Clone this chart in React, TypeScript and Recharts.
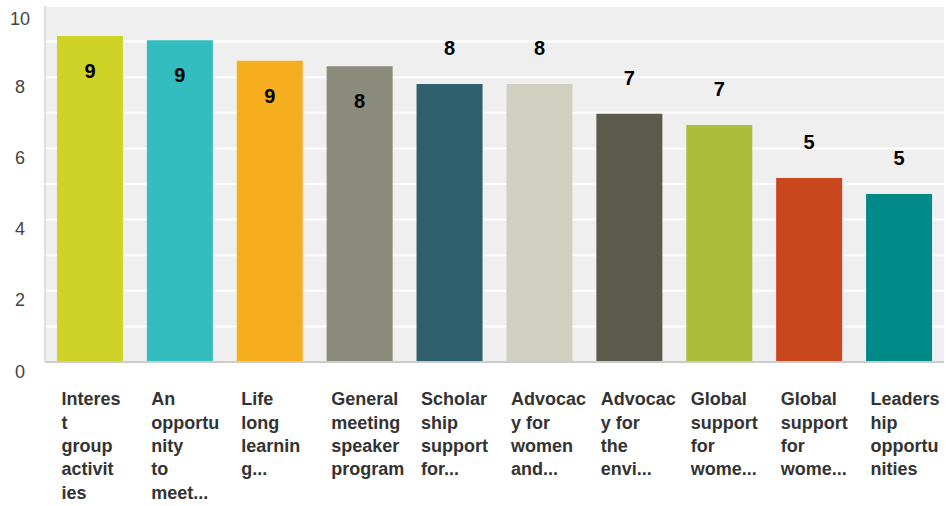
import { BarChart, Bar, XAxis, YAxis, CartesianGrid, Cell, LabelList } from 'recharts';

const categories = [
  'Interest group activities',
  'An opportunity to meet...',
  'Life long learning...',
  'General meeting speaker program',
  'Scholarship support for...',
  'Advocacy for women and...',
  'Advocacy for the envi...',
  'Global support for wome... (1)',
  'Global support for wome... (2)',
  'Leadership opportunities',
];

// wrapped tick text as shown under each bar
const tickLines = [
  ['Interes', 't', 'group', 'activit', 'ies'],
  ['An', 'opportu', 'nity', 'to', 'meet...'],
  ['Life', 'long', 'learnin', 'g...'],
  ['General', 'meeting', 'speaker', 'program'],
  ['Scholar', 'ship', 'support', 'for...'],
  ['Advocac', 'y for', 'women', 'and...'],
  ['Advocac', 'y for', 'the', 'envi...'],
  ['Global', 'support', 'for', 'wome...'],
  ['Global', 'support', 'for', 'wome...'],
  ['Leaders', 'hip', 'opportu', 'nities'],
];

const scores = [9.16, 9.04, 8.46, 8.31, 7.81, 7.81, 6.97, 6.66, 5.17, 4.72];
const scoreLabels = ['9', '9', '9', '8', '8', '8', '7', '7', '5', '5'];
const colors = ['#cfd327', '#33bdbf', '#f6ae1f', '#8a8b7a', '#2e5f6c', '#d0cfc0', '#5c5a4b', '#abbd3a', '#c9471c', '#008a87'];
const yTicks = [0, 1, 2, 3, 4, 5, 6, 7, 8, 9, 10];

const data = categories.map((name, i) => ({ name, score: scores[i] }));

const FONT = '"Liberation Sans", Arial, Helvetica, sans-serif';

function YTick({ x, y, payload }: any) {
  if (payload.value % 2 !== 0) return null;
  return (
    <text x={x - 23} y={y + 15.5} textAnchor="middle" fontSize={18} fill="#444" fontFamily={FONT}>
      {payload.value}
    </text>
  );
}

function XTick({ x, y, index }: any) {
  const lines = tickLines[index] || [];
  return (
    <text x={x - 28.5} y={y} fontSize={18} fontWeight="bold" fill="#333" fontFamily={FONT}>
      {lines.map((l, i) => (
        <tspan key={i} x={x - 28.5} y={y + 41.3 + i * 23.3}>
          {l}
        </tspan>
      ))}
    </text>
  );
}

function ScoreLabel({ x, y, width, index, value }: any) {
  // tall bars get the label inside, the rest above
  const inside = value > 8;
  const cy = inside ? y + 35 : y - 36;
  return (
    <text x={x + width / 2} y={cy + 7.2} textAnchor="middle" fontSize={20} fontWeight="bold" fill="#000" fontFamily={FONT}>
      {scoreLabels[index]}
    </text>
  );
}

export default function App() {
  return (
    <div style={{ position: 'absolute', left: 0, top: 0, background: '#fff' }}>
      <BarChart width={946} height={506} data={data} margin={{ top: 6, right: 2, left: 0, bottom: 0 }} barCategoryGap="13.3%">
        <CartesianGrid vertical={false} fill="#efefef" stroke="#ffffff" strokeWidth={2} />
        <XAxis
          dataKey="name"
          height={144}
          interval={0}
          tickLine={false}
          tickSize={0}
          axisLine={{ stroke: '#cccccc', strokeWidth: 2 }}
          tick={<XTick />}
        />
        <YAxis
          width={45}
          domain={[0, 10]}
          ticks={yTicks}
          tickLine={false}
          tickSize={0}
          axisLine={{ stroke: '#dddddd', strokeWidth: 2 }}
          tick={<YTick />}
        />
        <Bar dataKey="score" isAnimationActive={false}>
          {data.map((_, i) => (
            <Cell key={i} fill={colors[i]} />
          ))}
          <LabelList dataKey="score" content={<ScoreLabel />} />
        </Bar>
      </BarChart>
    </div>
  );
}
